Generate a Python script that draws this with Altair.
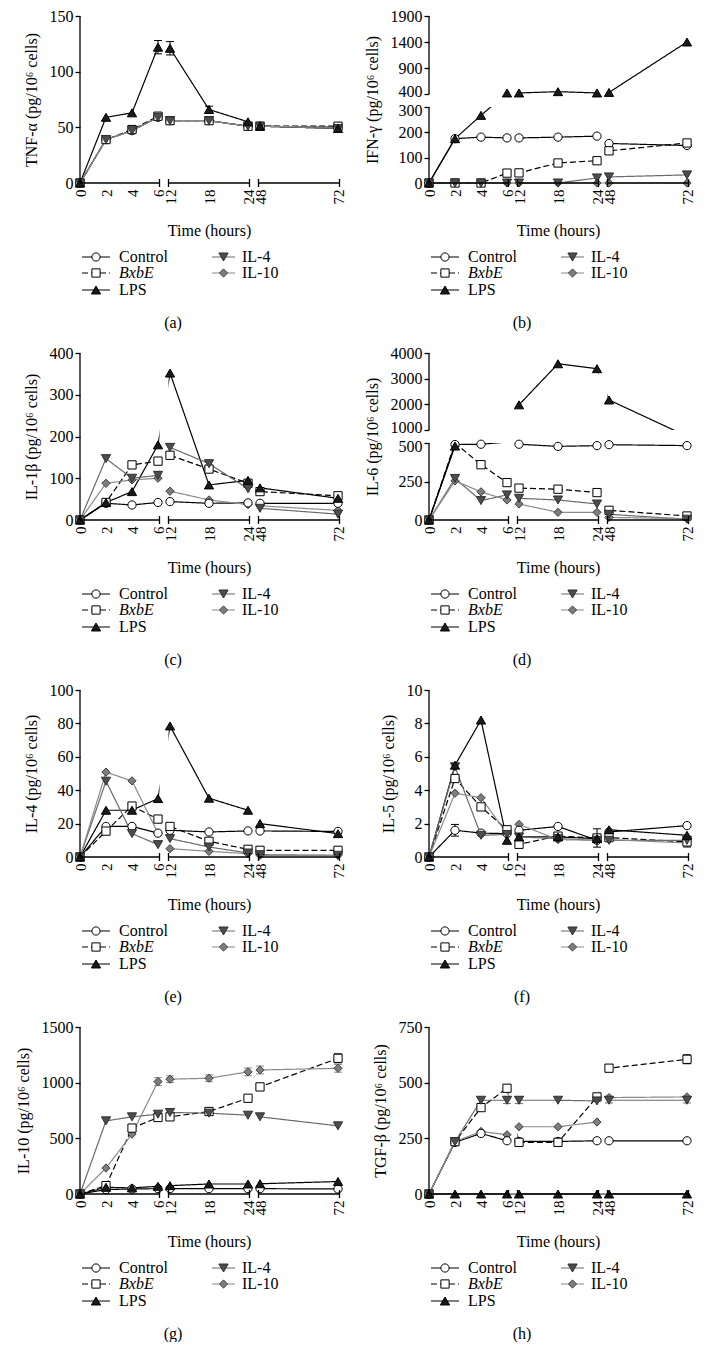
import altair as alt
import pandas as pd

TIMES = [0, 2, 4, 6, 12, 18, 24, 48, 72]
SERIES = ["Control", "BxbE", "LPS", "IL-4", "IL-10"]

# (a) TNF-alpha
TNF_CONTROL = [0, 39, 47, 59, 56, 56, 51, 51, 50]
TNF_BXBE = [0, 39, 48, 60, 56, 56, 51, 51, 51]
TNF_LPS = [0, 59, 63, 122, 121, 66, 55, 51, 49]
TNF_IL4 = [0, 39, 47, 59, 56, 56, 51, 51, 49]
TNF_IL10 = [0, 39, 47, 59, 56, 56, 51, 51, 50]
TNF_LPS_ERR = [0, 0, 0, 6, 6, 3, 0, 0, 0]

# (b) IFN-gamma
IFN_CONTROL = [0, 175, 181, 178, 178, 181, 185, 156, 148]
IFN_BXBE = [0, 0, 0, 39, 40, 79, 88, 127, 158]
IFN_LPS = [0, 175, 267, 420, 420, 445, 420, 430, 1400]
IFN_IL4 = [0, 0, 0, 0, 0, 0, 20, 24, 32]
IFN_IL10 = [0, 0, 0, 0, 0, 0, 0, 0, 0]

# (c) IL-1beta
IL1B_CONTROL = [0, 40, 36, 42, 44, 40, 41, 40, 40]
IL1B_BXBE = [0, 42, 132, 141, 155, 122, 88, 68, 58]
IL1B_LPS = [0, 42, 68, 180, 352, 84, 95, 77, 52]
IL1B_IL4 = [0, 147, 100, 107, 174, 135, 75, 28, 14]
IL1B_IL10 = [0, 88, 96, 100, 69, 48, 37, 34, 23]

# (d) IL-6  (None = value not shown, hidden in the axis break)
IL6_CONTROL = [0, 490, 492, 535, 492, 478, 483, 489, 483]
IL6_BXBE = [0, 502, 359, 243, 207, 200, 178, 63, 26]
IL6_LPS = [0, 480, None, None, 1980, 3580, 3390, 2170, 760]
IL6_IL4 = [0, 270, 126, 163, 141, 130, 104, 37, 5]
IL6_IL10 = [0, 254, 183, 130, 104, 50, 50, 17, 9]

# (e) IL-4
IL4_CONTROL = [0, 18.3, 18.3, 14.3, 16, 15, 15.6, 15.6, 15.3]
IL4_BXBE = [0, 15.5, 30.5, 22.7, 18.3, 9.4, 4.6, 4, 4]
IL4_LPS = [0, 28, 28, 35, 78.5, 35.2, 28, 20, 14]
IL4_IL4 = [0, 45.4, 14, 7.4, 11, 6, 2.4, 1.4, 1]
IL4_IL10 = [0, 50.8, 45.6, 14.3, 5, 3.4, 2, 1, 1]

# (f) IL-5
IL5_CONTROL = [0, 1.6, 1.43, 1.4, 1.6, 1.83, 1.0, 1.5, 1.88]
IL5_BXBE = [0, 4.7, 3.0, 1.63, 0.76, 1.25, 1.14, 1.16, 0.9]
IL5_LPS = [0, 5.5, 8.2, 1.0, 1.2, 1.2, 1.1, 1.63, 1.3]
IL5_IL4 = [0, 5.4, 1.3, 1.35, 1.2, 1.1, 1.0, 1.0, 1.0]
IL5_IL10 = [0, 3.82, 3.55, 1.4, 1.95, 1.04, 1.0, 1.04, 0.84]
IL5_CONTROL_ERR = [0, 0.35, 0, 0, 0, 0, 0, 0, 0]
IL5_BXBE_ERR = [0, 0, 0, 0, 0, 0, 0.55, 0, 0.3]

# (g) IL-10
IL10_CONTROL = [0, 40, 45, 48, 48, 48, 48, 48, 45]
IL10_BXBE = [0, 75, 592, 687, 693, 741, 860, 962, 1219]
IL10_LPS = [0, 60, 55, 69, 75, 90, 90, 92, 112]
IL10_IL4 = [0, 657, 693, 717, 732, 726, 708, 693, 612]
IL10_IL10 = [0, 233, 538, 1010, 1031, 1040, 1097, 1114, 1129]
IL10_IL10_ERR = [0, 0, 0, 35, 30, 30, 35, 35, 35]
IL10_BXBE_ERR = [0, 0, 0, 0, 0, 0, 0, 25, 40]
IL10_IL4_ERR = [0, 0, 0, 20, 20, 0, 0, 0, 0]

# (h) TGF-beta
TGF_CONTROL = [0, 232, 272, 239, 236, 236, 239, 239, 239]
TGF_BXBE = [0, 235, 388, 475, 232, 232, 436, 565, 605]
TGF_LPS = [0, 0, 0, 0, 0, 0, 0, 0, 0]
TGF_IL4 = [0, 235, 421, 421, 421, 421, 418, 421, 421]
TGF_IL10 = [0, 235, 281, 266, 302, 302, 323, 433, 436]
TGF_BXBE_ERR = [0, 0, 0, 15, 0, 0, 10, 15, 20]
TGF_IL4_ERR = [0, 0, 0, 15, 15, 0, 0, 12, 12]

PANELS = [
    dict(letter="(a)", title="TNF-α (pg/10⁶ cells)", vmax=150, ticks=[0, 50, 100, 150], brk=None,
         values=[TNF_CONTROL, TNF_BXBE, TNF_LPS, TNF_IL4, TNF_IL10], errors={"LPS": TNF_LPS_ERR}),
    dict(letter="(b)", title="IFN-γ (pg/10⁶ cells)", vmax=1900,
         ticks=[0, 100, 200, 300, 400, 900, 1400, 1900], brk=(300, 400, 76, 13),
         values=[IFN_CONTROL, IFN_BXBE, IFN_LPS, IFN_IL4, IFN_IL10], errors={}),
    dict(letter="(c)", title="IL-1β (pg/10⁶ cells)", vmax=400, ticks=[0, 100, 200, 300, 400], brk=None,
         values=[IL1B_CONTROL, IL1B_BXBE, IL1B_LPS, IL1B_IL4, IL1B_IL10], errors={}),
    dict(letter="(d)", title="IL-6 (pg/10⁶ cells)", vmax=4000,
         ticks=[0, 250, 500, 1000, 2000, 3000, 4000], brk=(500, 1000, 77, 13),
         values=[IL6_CONTROL, IL6_BXBE, IL6_LPS, IL6_IL4, IL6_IL10], errors={}),
    dict(letter="(e)", title="IL-4 (pg/10⁶ cells)", vmax=100, ticks=[0, 20, 40, 60, 80, 100], brk=None,
         values=[IL4_CONTROL, IL4_BXBE, IL4_LPS, IL4_IL4, IL4_IL10], errors={}),
    dict(letter="(f)", title="IL-5 (pg/10⁶ cells)", vmax=10, ticks=[0, 2, 4, 6, 8, 10], brk=None,
         values=[IL5_CONTROL, IL5_BXBE, IL5_LPS, IL5_IL4, IL5_IL10],
         errors={"Control": IL5_CONTROL_ERR, "BxbE": IL5_BXBE_ERR}),
    dict(letter="(g)", title="IL-10 (pg/10⁶ cells)", vmax=1500, ticks=[0, 500, 1000, 1500], brk=None,
         values=[IL10_CONTROL, IL10_BXBE, IL10_LPS, IL10_IL4, IL10_IL10],
         errors={"IL-10": IL10_IL10_ERR, "BxbE": IL10_BXBE_ERR, "IL-4": IL10_IL4_ERR}),
    dict(letter="(h)", title="TGF-β (pg/10⁶ cells)", vmax=750, ticks=[0, 250, 500, 750], brk=None,
         values=[TGF_CONTROL, TGF_BXBE, TGF_LPS, TGF_IL4, TGF_IL10],
         errors={"BxbE": TGF_BXBE_ERR, "IL-4": TGF_IL4_ERR}),
]

# ---------------- layout / style ----------------
W, H = 258, 167          # plot area (pixels); the scales below are pixel-identity
SEG, GAP, PAD = 78, 12, 1.5
FONT = "Liberation Serif"

POINT_ORDER = ["IL-10", "IL-4", "Control", "LPS", "BxbE"]
TRIANGLES = ["LPS", "IL-4"]
color_scale = alt.Scale(domain=SERIES, range=["#000000", "#000000", "#000000", "#6a6a6a", "#8a8a8a"])
dash_scale = alt.Scale(domain=SERIES, range=[[1, 0], [6, 3], [1, 0], [1, 0], [1, 0]])
shape_scale = alt.Scale(domain=SERIES, range=["circle", "square", "triangle-up", "triangle-down", "diamond"])
fill_scale = alt.Scale(domain=SERIES, range=["#ffffff", "#ffffff", "#1a1a1a", "#4d4d4d", "#7d7d7d"])
stroke_scale = alt.Scale(domain=SERIES, range=["#000000", "#000000", "#000000", "#303030", "#404040"])

LEG_COL = {"Control": 0, "BxbE": 0, "LPS": 0, "IL-4": 1, "IL-10": 1}
LEG_ROW = {"Control": 0, "BxbE": 1, "LPS": 2, "IL-4": 0, "IL-10": 1}
LEG_LINE = [(2, 30), (132, 155)]
LEG_MARK = [16, 143.5]
LEG_TEXT = [39, 162]
LEG_ROW_Y = [H - 241, H - 257, H - 274]
CAPTION_XY = (93, H - 307)


def xpos(t):
    if t <= 6:
        return t / 6 * SEG
    if t <= 24:
        return SEG + GAP + (t - 12) / 12 * SEG
    return 2 * (SEG + GAP) + (t - 48) / 24 * SEG


X_LABEL_EXPR = (
    f"format(round(datum.value <= {SEG + GAP / 2} ? datum.value*6/{SEG} : "
    f"datum.value <= {2 * SEG + 1.5 * GAP} ? 12 + (datum.value-{SEG + GAP})*12/{SEG} : "
    f"48 + (datum.value-{2 * (SEG + GAP)})*24/{SEG}), 'd')"
)


def ymap(v, p):
    if p["brk"] is None:
        return v / p["vmax"] * H
    lo_top, up_bot, h1, g = p["brk"]
    if v <= lo_top:
        return v / lo_top * h1
    if v >= up_bot:
        return h1 + g + (v - up_bot) / (p["vmax"] - up_bot) * (H - h1 - g)
    return h1 + (v - lo_top) / (up_bot - lo_top) * g


def in_gap(v, p):
    return p["brk"] is not None and p["brk"][0] < v < p["brk"][1]


def y_label_expr(p):
    if p["brk"] is None:
        return f"format(round(datum.value*{p['vmax']}/{H}), 'd')"
    lo_top, up_bot, h1, g = p["brk"]
    return (f"format(round(datum.value <= {h1 + g / 2} ? datum.value*{lo_top}/{h1} : "
            f"{up_bot} + (datum.value-{h1 + g})*{p['vmax'] - up_bot}/{H - h1 - g}), 'd')")


def y_label_offset(p):
    if p["brk"] is None:
        return 0
    h1, g = p["brk"][2], p["brk"][3]
    return {"condition": [{"test": f"abs(datum.value - {h1}) < 0.5", "value": 3},
                          {"test": f"abs(datum.value - {h1 + g}) < 0.5", "value": -3}],
            "value": 0}


def make_panel(p):
    rows, err_rows = [], []
    for s, vals in zip(SERIES, p["values"]):
        errs = p["errors"].get(s, [0] * len(TIMES))
        run = 0
        for t, v, e in zip(TIMES, vals, errs):
            if v is None:
                run += 1
                continue
            rows.append(dict(series=s, run=f"{s}-{run}", x=xpos(t), y=ymap(v, p), hidden=in_gap(v, p)))
            if e:
                err_rows.append(dict(series=s, x=xpos(t), xl=xpos(t) - 4, xr=xpos(t) + 4,
                                     lo=ymap(v - e, p), hi=ymap(v + e, p)))
    df = pd.DataFrame(rows)
    pts = df[~df["hidden"]].copy()
    pts["o"] = pts["series"].map({s: i for i, s in enumerate(POINT_ORDER)})
    pts = pts.sort_values("o", kind="stable")

    xsc = alt.Scale(domain=[0, W], nice=False, zero=False)
    ysc = alt.Scale(domain=[0, H], nice=False, zero=False)
    xaxis = alt.Axis(values=[xpos(t) for t in TIMES], labelExpr=X_LABEL_EXPR, labelAngle=270,
                     labelFont=FONT, titleFont=FONT,
                     labelFontSize=15, labelPadding=6, ticks=False, tickSize=0, domain=False, grid=False,
                     labelOverlap=False, labelFlush=False, labelBound=False,
                     title="Time (hours)", titleFontSize=16, titleFontWeight="normal",
                     titleY=47, titleBaseline="middle", labelColor="black", titleColor="black")
    yaxis = alt.Axis(values=[ymap(v, p) for v in p["ticks"]], labelExpr=y_label_expr(p),
                     labelFont=FONT, titleFont=FONT, labelOffset=y_label_offset(p),
                     domain=False, grid=False, ticks=True, tickSize=5, tickColor="black", tickWidth=1.3,
                     labelPadding=2, labelFontSize=16, labelOverlap=False, labelFlush=False,
                     labelBound=False, title=p["title"], titleFontSize=16, titleFontWeight="normal",
                     titlePadding=10, labelColor="black", titleColor="black")

    def X(f):
        return alt.X(f"{f}:Q", scale=xsc, axis=xaxis)

    def Y(f):
        return alt.Y(f"{f}:Q", scale=ysc, axis=yaxis)

    col = alt.Color("series:N", scale=color_scale, legend=None)
    dash = alt.StrokeDash("series:N", scale=dash_scale, legend=None)
    shp = alt.Shape("series:N", scale=shape_scale, legend=None)
    fil = alt.Fill("series:N", scale=fill_scale, legend=None)
    stk = alt.Stroke("series:N", scale=stroke_scale, legend=None)

    lines = alt.Chart(df).mark_line(strokeWidth=1.2).encode(
        x=X("x"), y=Y("y"), color=col, strokeDash=dash, detail="run:N")

    masks = [dict(x1=xpos(6) + PAD, x2=xpos(12) - PAD, y1=0.8, y2=H + 1),
             dict(x1=xpos(24) + PAD, x2=xpos(48) - PAD, y1=0.8, y2=H + 1)]
    axis_segs = [dict(x1=0, x2=xpos(6) + PAD, y1=0, y2=0),
                 dict(x1=xpos(12) - PAD, x2=xpos(24) + PAD, y1=0, y2=0),
                 dict(x1=xpos(48) - PAD, x2=xpos(72) + PAD, y1=0, y2=0)]
    for xe in [xpos(6) + PAD, xpos(12) - PAD, xpos(24) + PAD, xpos(48) - PAD, xpos(72) + PAD]:
        axis_segs.append(dict(x1=xe, x2=xe, y1=-4, y2=4))
    if p["brk"] is None:
        axis_segs.append(dict(x1=0, x2=0, y1=0, y2=H))
    else:
        h1, g = p["brk"][2], p["brk"][3]
        masks.append(dict(x1=0.8, x2=W + 3, y1=h1, y2=h1 + g))
        axis_segs.append(dict(x1=0, x2=0, y1=0, y2=h1))
        axis_segs.append(dict(x1=0, x2=0, y1=h1 + g, y2=H))

    mask_layer = alt.Chart(pd.DataFrame(masks)).mark_rect(color="white", strokeWidth=0).encode(
        x=X("x1"), x2="x2:Q", y=Y("y1"), y2="y2:Q")

    layers = [lines, mask_layer]
    if err_rows:
        edf = pd.DataFrame(err_rows)
        layers.append(alt.Chart(edf).mark_rule(strokeWidth=1).encode(
            x=X("x"), y=Y("lo"), y2="hi:Q", color=col))
        layers.append(alt.Chart(edf).mark_rule(strokeWidth=1).encode(
            x=X("xl"), x2="xr:Q", y=Y("hi"), color=col))
        layers.append(alt.Chart(edf).mark_rule(strokeWidth=1).encode(
            x=X("xl"), x2="xr:Q", y=Y("lo"), color=col))

    for sel, size in [(~pts["series"].isin(TRIANGLES), 68), (pts["series"].isin(TRIANGLES), 85)]:
        layers.append(alt.Chart(pts[sel]).mark_point(filled=True, opacity=1, strokeWidth=1, size=size).encode(
            x=X("x"), y=Y("y"), shape=shp, fill=fil, stroke=stk))
    layers.append(alt.Chart(pd.DataFrame(axis_segs)).mark_rule(color="black", strokeWidth=1.3).encode(
        x=X("x1"), x2="x2:Q", y=Y("y1"), y2="y2:Q"))

    leg = pd.DataFrame([dict(series=s, label=s,
                             x1=LEG_LINE[LEG_COL[s]][0], x2=LEG_LINE[LEG_COL[s]][1],
                             mx=LEG_MARK[LEG_COL[s]], tx=LEG_TEXT[LEG_COL[s]],
                             y=LEG_ROW_Y[LEG_ROW[s]]) for s in SERIES])
    layers.append(alt.Chart(leg).mark_rule(strokeWidth=1.2).encode(
        x=X("x1"), x2="x2:Q", y=Y("y"), color=col, strokeDash=dash))
    for sel, size in [(~leg["series"].isin(TRIANGLES), 68), (leg["series"].isin(TRIANGLES), 85)]:
        layers.append(alt.Chart(leg[sel]).mark_point(filled=True, opacity=1, strokeWidth=1, size=size).encode(
            x=X("mx"), y=Y("y"), shape=shp, fill=fil, stroke=stk))
    layers.append(alt.Chart(leg[leg["series"] != "BxbE"]).mark_text(
        align="left", baseline="middle", fontSize=16, font=FONT, color="black").encode(
        x=X("tx"), y=Y("y"), text="label:N"))
    layers.append(alt.Chart(leg[leg["series"] == "BxbE"]).mark_text(
        align="left", baseline="middle", fontSize=16, font=FONT, fontStyle="italic", color="black").encode(
        x=X("tx"), y=Y("y"), text="label:N"))
    cap = pd.DataFrame([dict(cx=CAPTION_XY[0], cy=CAPTION_XY[1], t=p["letter"])])
    layers.append(alt.Chart(cap).mark_text(align="center", baseline="middle", fontSize=16, font=FONT,
                                           color="black").encode(x=X("cx"), y=Y("cy"), text="t:N"))

    return alt.layer(*layers).properties(width=W, height=H)


chart = alt.concat(*[make_panel(p) for p in PANELS], columns=2,
                   spacing={"row": 14, "column": 18}).properties(
    padding={"left": 7, "top": 0, "right": 0, "bottom": 0},
    background="white",
).configure(font=FONT).configure_view(stroke=None)

chart.save("out.html", embed_options={"renderer": "svg", "actions": False})
